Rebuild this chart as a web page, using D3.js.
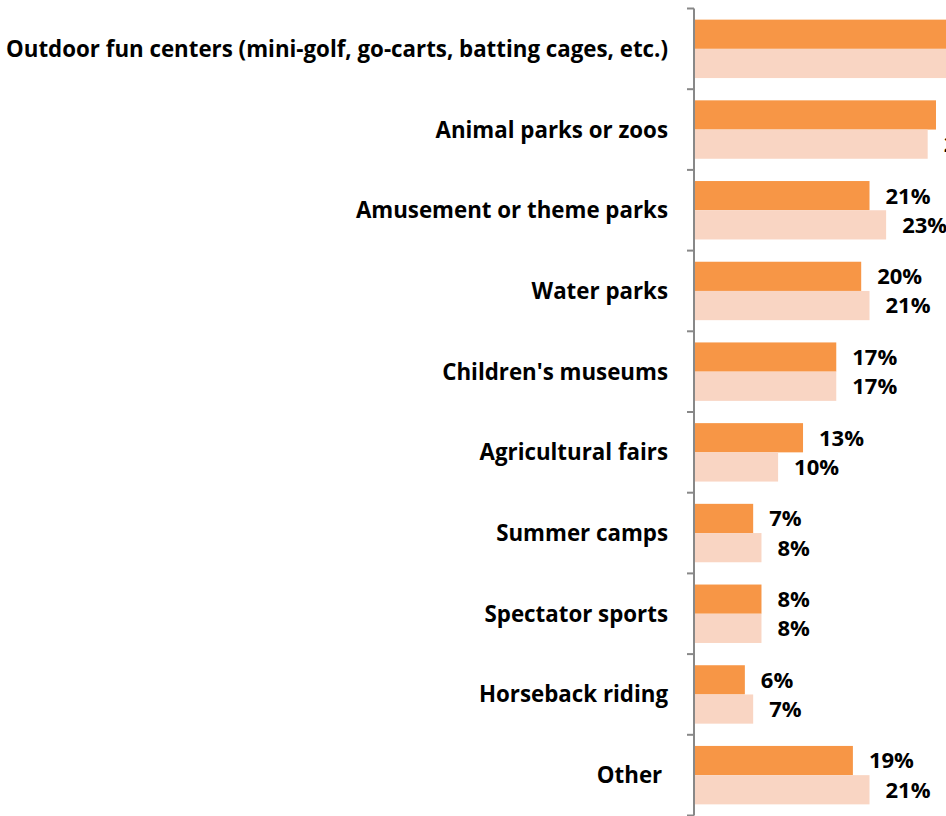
<!DOCTYPE html>
<html>
<head>
<meta charset="utf-8">
<script src="https://cdn.jsdelivr.net/npm/d3@7"></script>
<style>
  html, body { margin: 0; padding: 0; background: #ffffff; overflow: hidden; }
  svg { display: block; }
  .cat { font-family: "Open Sans", sans-serif; font-weight: 700; fill: #000; white-space: pre; }
  .val { font-family: "Open Sans", sans-serif; font-weight: 700; fill: #000; }
</style>
</head>
<body>
<svg id="chart" width="946" height="816"></svg>
<script>
// Activities, top to bottom
const categories = [
  "Outdoor fun centers (mini-golf, go-carts, batting cages, etc.)",
  "Animal parks or zoos",
  "Amusement or theme parks",
  "Water parks",
  "Children's museums",
  "Agricultural fairs",
  "Summer camps",
  "Spectator sports",
  "Horseback riding",
  "Other "
];

// Share of respondents (%) for each activity
const currentShare  = [33, 29, 21, 20, 17, 13, 7, 8, 6, 19];
const previousShare = [32, 28, 23, 21, 17, 10, 8, 8, 7, 21];

const seriesNames = ["current", "previous"];
const seriesColors = { current: "#F79646", previous: "#F9D5C3" };

const rows = categories.map((c, i) => ({
  category: c,
  current: currentShare[i],
  previous: previousShare[i]
}));

const svg = d3.select("#chart");

// Value axis: zero sits just right of the category axis line
const x = d3.scaleLinear().domain([0, 40]).range([695, 695 + 40 * 8.31]);

const y = d3.scaleBand()
  .domain(categories)
  .range([8.5, 815.5])
  .paddingInner(0.276)
  .paddingOuter(0.138);

const ySeries = d3.scaleBand()
  .domain(seriesNames)
  .range([0, y.bandwidth()])
  .padding(0);

// Bars
const groups = svg.append("g")
  .selectAll("g")
  .data(rows)
  .join("g")
  .attr("transform", d => `translate(0,${y(d.category)})`);

groups.selectAll("rect")
  .data(d => seriesNames.map(s => ({ key: s, value: d[s] })))
  .join("rect")
  .attr("x", x(0))
  .attr("y", d => ySeries(d.key))
  .attr("width", d => x(d.value) - x(0))
  .attr("height", ySeries.bandwidth())
  .attr("fill", d => seriesColors[d.key]);

// Value labels
groups.selectAll("text.val")
  .data(d => seriesNames.map(s => ({ key: s, value: d[s] })))
  .join("text")
  .attr("class", "val")
  .attr("x", d => x(d.value) + 16)
  .attr("y", d => ySeries(d.key) + ySeries.bandwidth() / 2)
  .attr("dy", "0.36em")
  .attr("font-size", 22)
  .text(d => d.value + "%");

// Category axis with ticks at band boundaries
const axisX = 694;
const step = y.step();
const half = step * y.paddingInner() / 2;
const boundaries = categories.map(c => y(c) - half).concat([y(categories[categories.length - 1]) + y.bandwidth() + half]);

const axis = svg.append("g");
axis.append("line")
  .attr("x1", axisX).attr("x2", axisX)
  .attr("y1", boundaries[0]).attr("y2", boundaries[boundaries.length - 1])
  .attr("stroke", "#888888").attr("stroke-width", 2);
axis.selectAll("line.tick")
  .data(boundaries)
  .join("line")
  .attr("class", "tick")
  .attr("x1", axisX - 7).attr("x2", axisX)
  .attr("y1", d => d).attr("y2", d => d)
  .attr("stroke", "#888888").attr("stroke-width", 2);

// Category labels, right-aligned against the axis
axis.selectAll("text.cat")
  .data(categories)
  .join("text")
  .attr("class", "cat")
  .attr("x", 668)
  .attr("y", d => y(d) + y.bandwidth() / 2)
  .attr("dy", "0.36em")
  .attr("text-anchor", "end")
  .attr("font-size", 22.3)
  .text(d => d);
</script>
</body>
</html>
